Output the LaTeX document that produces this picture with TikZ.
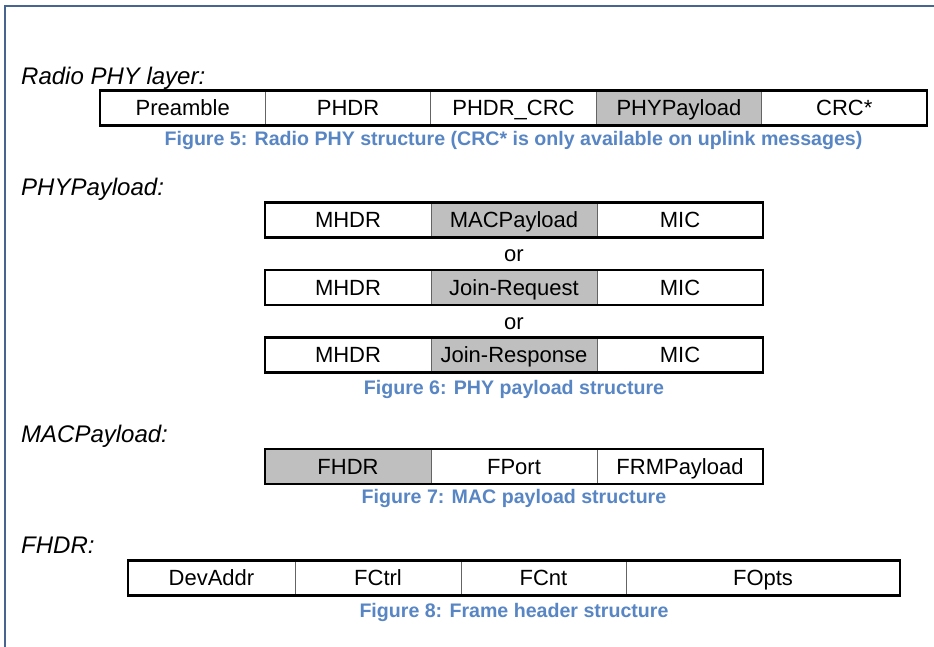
\documentclass[tikz,border=0pt]{standalone}
\usepackage{fontspec}
\setmainfont{Liberation Sans}
\definecolor{framecol}{RGB}{72,101,146}
\definecolor{capcol}{RGB}{88,134,196}
\definecolor{fillgray}{RGB}{191,191,191}
\definecolor{divcol}{RGB}{100,100,100}
\begin{document}
\begin{tikzpicture}[x=1pt,y=-1pt,
  cell/.style={draw=divcol, line width=0.8pt, minimum height=35pt, inner sep=0pt, outer sep=0pt,
    text height=20pt, text depth=4.2pt, font=\fontsize{22}{24}\selectfont},
  shaded/.style={cell, fill=fillgray},
  outerbox/.style={draw=black, line width=2.6pt},
  sectlabel/.style={anchor=base west, inner sep=0pt, font=\fontsize{24}{28}\selectfont\itshape},
  capt/.style={anchor=base, inner sep=0pt, text=capcol, font=\fontsize{19.6}{22}\selectfont\bfseries},
  ortext/.style={anchor=base, inner sep=0pt, font=\fontsize{22}{24}\selectfont}]

\useasboundingbox (0,0) rectangle (934,646);
\fill[white] (0,0) rectangle (934,646);
\draw[framecol, line width=2.6pt] (5,660) -- (5,6) -- (950,6);

% Radio PHY layer
\node[sectlabel] (l1) at (21,84) {Radio PHY layer:};
\node[cell, minimum width=165.4pt] (r1) at (182.7,108) {Preamble};
\node[cell, minimum width=165.4pt] (r2) at (348.1,108) {PHDR};
\node[cell, minimum width=165.4pt] (r3) at (513.5,108) {PHDR\_CRC};
\node[shaded, minimum width=165.4pt] (r4) at (678.9,108) {PHYPayload};
\node[cell, minimum width=165.4pt] (r5) at (844.3,108) {CRC*};
\draw[outerbox] (r1.north west) rectangle (r5.south east);
\node[capt] (c5) at (513.5,145) {Figure 5: Radio PHY structure (CRC* is only available on uplink messages)};

% PHYPayload
\node[sectlabel] (l2) at (21,195) {PHYPayload:};
\node[cell, minimum width=166pt] (a1) at (348,220) {MHDR};
\node[shaded, minimum width=166pt] (a2) at (514,220) {MACPayload};
\node[cell, minimum width=166pt] (a3) at (680,220) {MIC};
\draw[outerbox] (a1.north west) rectangle (a3.south east);
\node[ortext] (or1) at (514,261.5) {or};
\node[cell, minimum width=166pt] (b1) at (348,287.5) {MHDR};
\node[shaded, minimum width=166pt] (b2) at (514,287.5) {Join-Request};
\node[cell, minimum width=166pt] (b3) at (680,287.5) {MIC};
\draw[outerbox] (b1.north west) rectangle (b3.south east);
\node[ortext] (or2) at (514,329) {or};
\node[cell, minimum width=166pt] (d1) at (348,355) {MHDR};
\node[shaded, minimum width=166pt] (d2) at (514,355) {Join-Response};
\node[cell, minimum width=166pt] (d3) at (680,355) {MIC};
\draw[outerbox] (d1.north west) rectangle (d3.south east);
\node[capt] (c6) at (514,394) {Figure 6: PHY payload structure};

% MACPayload
\node[sectlabel] (l3) at (21,442) {MACPayload:};
\node[shaded, minimum width=166pt] (m1) at (348,466.5) {FHDR};
\node[cell, minimum width=166pt] (m2) at (514,466.5) {FPort};
\node[cell, minimum width=166pt] (m3) at (680,466.5) {FRMPayload};
\draw[outerbox] (m1.north west) rectangle (m3.south east);
\node[capt] (c7) at (514,503) {Figure 7: MAC payload structure};

% FHDR
\node[sectlabel] (l4) at (21,553) {FHDR:};
\node[cell, minimum width=167pt] (f1) at (211.5,578) {DevAddr};
\node[cell, minimum width=166pt] (f2) at (378,578) {FCtrl};
\node[cell, minimum width=165pt] (f3) at (543.5,578) {FCnt};
\node[cell, minimum width=274pt] (f4) at (763,578) {FOpts};
\draw[outerbox] (f1.north west) rectangle (f4.south east);
\node[capt] (c8) at (514,617) {Figure 8: Frame header structure};
\end{tikzpicture}
\end{document}
